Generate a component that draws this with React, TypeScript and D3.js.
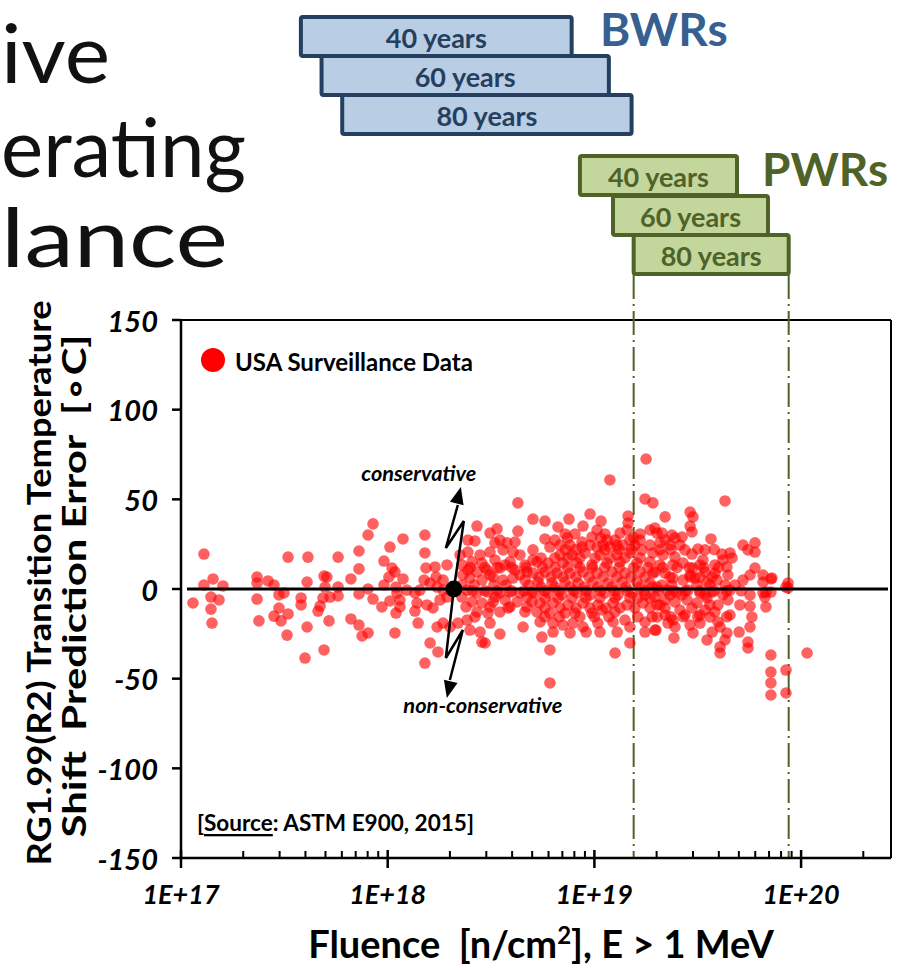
import React from "react";
import * as d3 from "d3";

// ---------- data ----------
const yTicks = [150, 100, 50, 0, -50, -100, -150];
const xDecades = [17, 18, 19, 20];
const xTickLabels = ["1E+17", "1E+18", "1E+19", "1E+20"];
const lifeLabels = ["40 years", "60 years", "80 years"];
// fluence ranges (log10 n/cm2) of operating lifetimes
const bwrRanges: [number, number][] = [[17.58, 18.89], [17.68, 19.07], [17.78, 19.18]];
const pwrRanges: [number, number][] = [[18.93, 19.69], [19.09, 19.84], [19.19, 19.94]];
const pwrLimits = [19.19, 19.94];
const refPoint: [number, number] = [18.32, 0];

// surveillance data: [log10 fluence, prediction error degC]
const sparsePoints: [number, number][] = [
  [17.058,-7.8],[17.111,19.5],[17.111,2.2],[17.155,5.6],[17.145,-4.5],[17.184,-6.1],[17.145,-11.2],[17.150,-19.0],[17.203,1.7],
  [17.368,6.7],[17.368,3.3],[17.368,-5.6],[17.377,-17.8],[17.421,4.5],[17.450,2.2],[17.474,-3.3],[17.474,-10.6],[17.450,-15.1],[17.484,-17.8],[17.518,-13.9],[17.518,17.8],[17.498,-2.2],[17.513,-25.7],
  [17.581,-5.0],[17.581,-8.9],[17.610,3.9],[17.614,17.8],[17.610,-21.2],[17.600,-38.5],[17.663,-12.3],[17.673,-9.5],[17.692,7.2],[17.697,1.1],[17.706,6.7],[17.687,-5.0],[17.716,-17.8],[17.721,-4.5],[17.692,-34.0],
  [17.760,17.8],[17.760,1.1],[17.760,-3.9],[17.822,5.6],[17.822,-16.7],[17.861,21.2],[17.861,11.2],[17.861,-2.8],[17.861,-20.1],[17.876,-26.2],[17.905,-24.5],[17.905,30.1],[17.929,36.3],[17.905,0],[17.929,-5.6],[17.972,-10.0],[17.982,15.6],[17.982,2.2],
  [18.011,23.4],[18.021,11.7],[18.035,9.5],[18.006,6.7],[18.040,1.1],[18.045,-2.2],[18.011,-6.7],[18.059,-6.1],[18.059,-10.0],[18.040,-13.4],[18.035,-24.5],[18.074,27.9],[18.074,5.6],[18.132,-12.3],[18.147,-19.0],[18.142,-7.8],
  [18.180,30.1],[18.180,20.1],[18.229,12.3],[18.287,13.4],
];

const clusterPoints: [number, number][] = [
  [18.185,11.7],[18.176,5.0],[18.234,6.7],[18.268,5.0],[18.190,-8.9],[18.219,-10.6],[18.239,-21.2],[18.268,-19.0],[18.302,-21.2],[18.253,-6.1],[18.287,-4.5],[18.205,-30.1],[18.243,-35.1],[18.180,-41.3],
  [18.340,-19.0],[18.384,-17.3],[18.398,-22.9],[18.447,-24.0],[18.456,-29.6],[18.471,-30.1],[18.543,-25.1],[18.495,-19.0],[18.422,-15.6],[18.582,-10.6],[18.664,-12.8],[18.655,-21.2],
  [18.630,48.0],[18.703,39.0],[18.432,35.1],[18.529,33.5],[18.495,31.2],[18.630,32.3],[18.388,27.3],[18.422,26.8],[18.543,27.3],[18.577,25.7],[18.616,26.2],[18.519,25.7],
  [18.388,20.6],[18.447,19.0],[18.495,20.6],[18.558,21.8],[18.606,20.6],[18.703,21.8],
  [18.408,15.1],[18.456,14.5],[18.519,16.2],[18.592,15.1],[18.703,16.2],
  [18.388,10.6],[18.432,9.5],[18.480,10.6],[18.543,11.7],[18.616,10.6],[18.674,9.5],
  [18.398,6.1],[18.456,5.0],[18.510,6.7],[18.558,5.0],[18.606,6.1],[18.664,5.0],
  [18.384,-0.6],[18.432,-2.2],[18.485,-1.7],[18.543,-2.2],[18.592,-1.7],[18.640,-2.2],[18.698,-1.7],
  [18.408,-7.2],[18.456,-7.8],[18.510,-7.2],[18.568,-6.1],[18.626,-7.2],[18.698,-7.2],
  [18.432,-12.8],[18.485,-13.4],[18.543,-12.8],
  [18.093,-0.6],[18.268,-0.6],[18.239,1.1],[18.205,3.3],[18.156,-0.6],[18.132,-2.2],
];

const corePoints: [number, number][] = [
  [19.250,72.5],[19.075,60.8],[19.245,50.2],[19.283,48.0],
  [18.761,37.9],[18.824,34.6],[18.877,39.0],[18.945,35.1],[18.979,41.8],[19.032,37.9],[19.013,32.9],[19.163,40.7],[19.163,36.8],[19.158,32.9],[19.124,31.2],[19.100,27.3],[19.061,27.3],[18.988,29.0],[18.940,26.2],[18.761,27.9],[18.809,27.3],[18.785,23.4],
  [18.940,23.4],[19.013,23.4],[19.075,23.4],[19.138,24.5],[19.172,27.3],[19.221,27.3],[19.269,32.9],[19.293,34.0],[19.230,21.8],
  [18.834,19.0],[18.892,19.0],[18.955,20.1],[19.027,19.0],[19.109,19.0],[19.172,20.1],
  [18.722,15.1],[18.776,14.5],[18.848,14.5],[18.916,14.5],[18.988,13.4],[19.061,14.5],[19.124,15.1],[19.206,14.5],[19.269,15.1],
  [18.703,8.9],[18.761,9.5],[18.819,8.9],[18.882,8.9],[18.945,9.5],[19.013,8.9],[19.085,9.5],[19.148,8.9],[19.221,9.5],[19.283,8.9],
  [18.727,3.9],[18.795,3.3],[18.858,3.9],[18.921,3.3],[18.993,3.9],[19.066,3.3],[19.134,3.9],[19.206,3.9],[19.269,3.3],
  [18.713,-2.2],[18.776,-2.2],[18.843,-3.3],[18.916,-2.2],[18.979,-3.3],[19.051,-2.2],[19.114,-3.3],[19.182,-2.2],[19.245,-3.3],
  [18.737,-7.8],[18.800,-7.8],[18.872,-8.9],[18.945,-7.8],[19.017,-8.9],[19.090,-7.8],[19.158,-8.9],[19.235,-7.8],[19.303,-8.9],
  [18.722,-12.8],[18.785,-13.4],[18.858,-13.4],[18.906,-13.4],[18.988,-13.4],[19.037,-11.7],[19.100,-12.8],
  [18.737,-18.4],[18.800,-19.0],[18.848,-20.1],[18.896,-19.0],[18.945,-21.2],[19.017,-19.0],[19.027,-24.0],[19.090,-18.4],[19.148,-17.3],[19.172,-21.2],[19.245,-18.4],[19.245,-24.0],[19.293,-22.9],
  [18.746,-26.8],[18.882,-24.5],[18.785,-34.0],[19.172,-30.1],[19.100,-35.7],[18.785,-52.4],
];

const highPoints: [number, number][] = [
  [19.632,49.1],[19.342,40.2],[19.463,42.9],[19.477,40.2],[19.463,35.1],[19.472,31.8],[19.303,31.2],[19.327,31.2],[19.375,30.1],[19.424,29.0],[19.564,27.9],[19.317,25.7],[19.366,24.5],[19.414,24.5],[19.501,22.3],[19.472,19.5],[19.525,16.2],[19.617,19.5],[19.656,20.1],[19.666,17.3],[19.622,16.2],[19.719,24.5],[19.743,21.8],[19.777,25.7],[19.777,20.6],
  [19.283,20.1],[19.332,19.0],[19.390,17.8],[19.429,14.5],[19.477,11.7],[19.535,9.5],[19.583,8.9],[19.641,12.3],[19.646,7.8],[19.777,11.7],[19.753,7.8],[19.719,5.0],[19.816,7.8],[19.859,6.1],[19.816,3.9],
  [19.293,9.5],[19.342,8.9],[19.380,6.1],[19.429,5.0],[19.487,6.1],[19.545,3.9],[19.593,5.0],[19.632,2.2],
  [19.303,1.1],[19.351,-0.6],[19.400,-1.7],[19.453,-0.6],[19.511,-2.2],[19.569,-1.7],[19.622,-3.3],[19.656,-0.6],[19.753,-3.3],[19.825,-4.5],
  [19.293,-4.5],[19.342,-6.1],[19.390,-7.2],[19.448,-6.1],[19.496,-7.8],[19.545,-5.0],[19.598,-8.9],[19.646,-6.1],[19.753,-9.5],[19.830,-10.0],
  [19.342,-10.6],[19.414,-11.7],[19.472,-10.6],[19.535,-11.7],[19.583,-12.8],
  [19.303,-15.6],[19.356,-19.0],[19.390,-21.2],[19.380,-17.3],[19.463,-20.1],[19.511,-19.0],[19.559,-15.6],[19.598,-18.4],[19.656,-14.5],[19.608,-21.2],[19.762,-15.6],[19.753,-21.2],
  [19.298,-22.9],[19.477,-24.5],[19.641,-24.5],[19.632,-28.4],[19.385,-27.3],[19.545,-28.4],[19.608,-32.3],[19.608,-35.7],[19.743,-29.6],[19.743,-32.9],
  [19.854,-36.8],[19.854,-46.3],[19.854,-52.4],[19.854,-59.1],
  [19.854,5.6],[19.830,-1.7],[19.854,-1.7],[19.816,-2.2],[19.937,3.3],[19.937,0.6],[19.927,1.1],[20.029,-35.7],[19.927,-45.2],[19.927,-58.0],
];

const densePoints: [number, number][] = [
  [18.742,17.3],[18.809,17.3],[18.872,17.3],[18.930,17.3],[19.003,17.3],[19.076,17.3],[19.148,17.3],[19.221,17.3],
  [18.732,6.7],[18.790,6.7],[18.848,6.7],[18.911,6.7],[18.974,6.7],[19.042,6.7],[19.109,6.7],[19.177,6.7],[19.245,6.7],[19.366,6.7],[19.463,6.7],[19.511,6.7],[19.569,6.7],
  [18.742,1.1],[18.809,1.1],[18.882,1.1],[18.950,1.1],[19.017,1.1],[19.085,1.1],[19.153,1.1],[19.221,1.1],[19.279,1.1],
  [18.761,-5.0],[18.824,-5.0],[18.892,-5.0],[18.959,-5.0],[19.027,-5.0],[19.100,-5.0],[19.172,-5.0],[19.211,-5.0],[19.269,-5.0],
  [18.761,-10.6],[18.834,-10.6],[18.911,-10.6],[18.979,-10.6],[19.056,-10.6],[19.124,-10.6],[19.196,-10.6],[19.269,-10.6],
  [18.858,30.7],[18.906,30.7],[19.051,30.7],[19.221,30.7],
  [18.834,24.5],[18.882,24.5],[18.979,24.5],[19.042,24.5],[19.109,24.5],[19.196,24.5],[19.269,24.5],
  [18.359,2.2],[18.418,2.2],[18.514,2.2],[18.572,2.2],[18.684,2.2],
  [18.364,7.8],[18.495,7.8],[18.640,7.8],
  [18.359,-4.5],[18.519,-4.5],[18.674,-4.5],
  [18.359,13.4],[18.568,13.4],[18.664,13.4],
  [18.350,19.0],[18.640,19.0],
  [18.379,-10.0],[18.495,-10.0],[18.592,-10.0],[18.674,-10.0],
  [19.342,27.3],[19.317,21.8],[19.438,21.8],[19.535,21.8],
  [19.317,13.4],[19.380,13.4],[19.511,13.4],[19.583,13.4],
  [19.327,2.2],[19.375,2.2],[19.496,2.2],[19.559,2.2],[19.680,2.2],
  [19.366,-3.3],[19.424,-3.3],[19.535,-3.3],
  [19.317,-8.9],[19.559,-8.9],[19.704,-8.9],
  [19.342,-14.5],[19.438,-14.5],[19.511,-14.5],[19.463,7.8],
];

const crowdPoints: [number, number][] = [
  [18.40,12.0],[18.47,12.0],[18.53,12.0],[18.60,12.0],[18.67,12.0],[18.75,12.0],[18.81,12.0],[18.87,12.0],[18.93,12.0],[18.99,12.0],[19.05,12.0],[19.12,12.0],[19.19,12.0],[19.26,12.0],[19.33,12.0],[19.40,12.0],[19.46,12.0],[19.53,12.0],[19.60,12.0],
  [18.41,-1.0],[18.47,-1.0],[18.53,-1.0],[18.60,-1.0],[18.66,-1.0],[18.76,-1.0],[18.83,-1.0],[18.90,-1.0],[18.96,-1.0],[19.03,-1.0],[19.10,-1.0],[19.16,-1.0],[19.24,-1.0],[19.31,-1.0],[19.38,-1.0],[19.44,-1.0],[19.51,-1.0],[19.58,-1.0],[19.64,-1.0],[19.71,-1.0],
  [18.76,-15.5],[18.83,-15.5],[18.93,-15.5],[19.00,-15.5],[19.07,-15.5],[19.21,-15.5],[19.28,-15.5],[19.37,-15.5],[19.43,-15.5],[19.50,-15.5],[19.64,-15.5],
  [18.86,22.0],[18.91,22.0],[19.05,22.0],[19.12,22.0],[19.18,22.0],[19.37,22.0],[19.58,22.0],
  [18.87,28.5],[19.03,28.5],[19.19,28.5],[19.39,28.5],
  [18.80,-24.0],[18.96,-24.0],[19.11,-24.0],[19.57,-24.0],[19.70,-24.0],
];

// ---------- layout ----------
const W = 905, H = 970;
const FONT = "Lato, 'Open Sans', sans-serif";

export default function App() {
  const x = d3.scaleLog().domain([1e17, Math.pow(10, 20.435)]).range([181, 891]);
  const y = d3.scaleLinear().domain([-150, 150]).range([858, 320]);
  const xl = (lf: number) => x(Math.pow(10, lf));

  const allPoints = [...sparsePoints, ...clusterPoints, ...corePoints, ...densePoints, ...crowdPoints, ...highPoints];

  const minorTicks: number[] = [];
  xDecades.forEach((d) => {
    for (let m = 2; m <= 9; m++) {
      const v = m * Math.pow(10, d);
      if (v < x.domain()[1]) minorTicks.push(v);
    }
  });

  const ax = xl(refPoint[0]);
  const ay = y(refPoint[1]);
  const line = d3.line<[number, number]>().x((d) => ax + d[0]).y((d) => ay + d[1]);
  const upPath: [number, number][] = [[0, 0], [10, -68], [-8, -41], [5, -90]];
  const downPath: [number, number][] = [[0, 0], [-8, 69], [9, 41], [-5, 97]];
  const head = (from: [number, number], tip: [number, number]) => {
    const dx = tip[0] - from[0], dy = tip[1] - from[1];
    const len = Math.hypot(dx, dy);
    const ux = dx / len, uy = dy / len;
    const L = 17, Wd = 7;
    const bx = ax + tip[0] - ux * L, by = ay + tip[1] - uy * L;
    return `M${ax + tip[0]},${ay + tip[1]} L${bx - uy * Wd},${by + ux * Wd} L${bx + uy * Wd},${by - ux * Wd} Z`;
  };

  const x0 = 181, x1 = 891, yTop = 320, yBot = 858;

  const boxRow = (ranges: [number, number][], tops: number[], fill: string, stroke: string, textColor: string, h: number) =>
    ranges.map((r, i) => {
      const bx = xl(r[0]), bw = xl(r[1]) - xl(r[0]);
      return (
        <g key={i}>
          <rect x={bx} y={tops[i]} width={bw} height={h} fill={fill} stroke={stroke} strokeWidth={4} rx={2} />
          <text x={bx + bw / 2} y={tops[i] + h / 2 + 1} textAnchor="middle" dominantBaseline="central"
            fontFamily={FONT} fontWeight={700} fontSize={27} fill={textColor}>{lifeLabels[i]}</text>
        </g>
      );
    });

  return (
    <svg width={W} height={H} style={{ position: "absolute", left: 0, top: 0, background: "#fff" }}>
      {/* slide title fragments */}
      <g fontFamily={FONT} fontWeight={400} fontSize={82} fill="#111">
        <text x={1} y={83} textLength={109} lengthAdjust="spacingAndGlyphs">ive</text>
        <text x={1} y={177} textLength={245} lengthAdjust="spacingAndGlyphs">erating</text>
        <text x={1} y={267} textLength={227} lengthAdjust="spacingAndGlyphs">lance</text>
      </g>

      {/* lifetime boxes */}
      {boxRow(bwrRanges, [17, 56, 95], "#b9cde5", "#243f60", "#243f60", 39)}
      <text x={600} y={46} fontFamily={FONT} fontWeight={700} fontSize={46} fill="#376092">BWRs</text>
      {boxRow(pwrRanges, [156, 196, 235], "#c3d69b", "#4f6228", "#4f6228", 39)}
      <text x={762} y={186} fontFamily={FONT} fontWeight={700} fontSize={46} fill="#4f6228">PWRs</text>

      {/* frame */}
      <line x1={x0} x2={x1} y1={yTop} y2={yTop} stroke="#000" strokeWidth={2} />
      <line x1={x1} x2={x1} y1={yTop} y2={yBot} stroke="#000" strokeWidth={2} />

      {/* PWR limits */}
      {pwrLimits.map((v, i) => (
        <line key={i} x1={xl(v)} x2={xl(v)} y1={275} y2={yBot} stroke="#4f6228" strokeWidth={2} strokeDasharray="24 5 2 5" />
      ))}

      {/* points */}
      <g fill="#ff0000" fillOpacity={0.62}>
        {allPoints.map((p, i) => (
          <circle key={i} cx={xl(p[0])} cy={y(p[1])} r={5.8} />
        ))}
      </g>

      {/* zero line */}
      <line x1={187} x2={888} y1={y(0)} y2={y(0)} stroke="#000" strokeWidth={3} />

      {/* annotation */}
      <path d={line(upPath.slice(0, 3).concat([[upPath[3][0] - 1, upPath[3][1] + 6]])) || ""} fill="none" stroke="#000" strokeWidth={2.5} />
      <path d={line(downPath.slice(0, 3).concat([[downPath[3][0] + 1, downPath[3][1] - 6]])) || ""} fill="none" stroke="#000" strokeWidth={2.5} />
      <path d={head(upPath[2], [upPath[3][0] + 2, upPath[3][1] - 12])} fill="#000" />
      <path d={head(downPath[2], [downPath[3][0] - 2, downPath[3][1] + 12])} fill="#000" />
      <circle cx={ax} cy={ay} r={8.5} fill="#000" />
      <text x={ax - 35} y={ay - 116} textAnchor="middle" dominantBaseline="central" fontFamily={FONT}
        fontWeight={700} fontStyle="italic" fontSize={20} textLength={115} lengthAdjust="spacingAndGlyphs">conservative</text>
      <text x={ax + 29} y={ay + 116} textAnchor="middle" dominantBaseline="central" fontFamily={FONT}
        fontWeight={700} fontStyle="italic" fontSize={20} textLength={159} lengthAdjust="spacingAndGlyphs">non-conservative</text>

      {/* legend */}
      <circle cx={213} cy={360} r={12} fill="#ff0000" />
      <text x={235} y={361} dominantBaseline="central" fontFamily={FONT} fontWeight={700} fontSize={24}
        textLength={238} lengthAdjust="spacingAndGlyphs">USA Surveillance Data</text>

      {/* source */}
      <text x={197} y={822} dominantBaseline="central" fontFamily={FONT} fontWeight={700} fontSize={23}
        textLength={277} lengthAdjust="spacingAndGlyphs">
        [<tspan textDecoration="underline">Source</tspan>: ASTM E900, 2015]
      </text>

      {/* axes */}
      <line x1={x0} x2={x0} y1={yTop} y2={yBot} stroke="#000" strokeWidth={2.5} />
      <line x1={x0} x2={x1} y1={yBot} y2={yBot} stroke="#000" strokeWidth={2.5} />
      {yTicks.map((t) => (
        <g key={t}>
          <line x1={x0 - 9} x2={x0} y1={y(t)} y2={y(t)} stroke="#000" strokeWidth={2.5} />
          <text x={158} y={y(t)} textAnchor="end" dominantBaseline="central" fontFamily={FONT}
            fontWeight={700} fontStyle="italic" fontSize={29}>{t}</text>
        </g>
      ))}
      {xDecades.map((d, i) => (
        <g key={d}>
          <line x1={x(Math.pow(10, d))} x2={x(Math.pow(10, d))} y1={yBot - 8} y2={yBot + 10} stroke="#000" strokeWidth={2.5} />
          <text x={x(Math.pow(10, d))} y={893} textAnchor="middle" dominantBaseline="central" fontFamily={FONT}
            fontWeight={700} fontStyle="italic" fontSize={27}>{xTickLabels[i]}</text>
        </g>
      ))}
      {minorTicks.map((v, i) => (
        <line key={i} x1={x(v)} x2={x(v)} y1={yBot - 7} y2={yBot} stroke="#000" strokeWidth={2} />
      ))}

      {/* axis titles */}
      <text x={541} y={958} textAnchor="middle" fontFamily={FONT} fontWeight={700} fontSize={38} style={{ whiteSpace: "pre" }}>
        {"Fluence  [n/cm"}<tspan fontSize={24} dy={-14}>2</tspan><tspan dy={14}>{"], E > 1 MeV"}</tspan>
      </text>
      <g transform="translate(38,583) rotate(-90)">
        <text x={0} y={0} textAnchor="middle" dominantBaseline="central" fontFamily={FONT} fontWeight={700}
          fontSize={33} textLength={565} lengthAdjust="spacingAndGlyphs">RG1.99(R2) Transition Temperature</text>
      </g>
      <g transform="translate(73,586) rotate(-90)">
        <text x={0} y={0} textAnchor="middle" dominantBaseline="central" fontFamily={FONT} fontWeight={700}
          fontSize={33} textLength={503} lengthAdjust="spacingAndGlyphs" style={{ whiteSpace: "pre" }}>{"Shift  Prediction Error  [∘C]"}</text>
      </g>
    </svg>
  );
}
